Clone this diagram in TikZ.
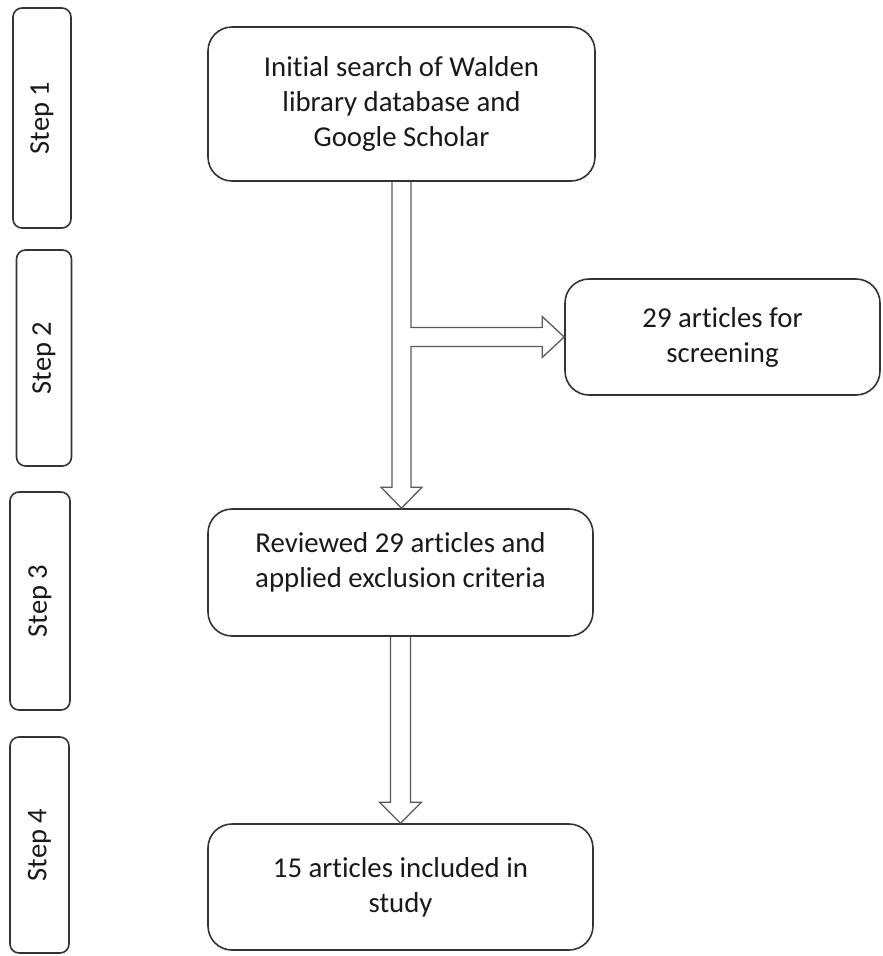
\documentclass[tikz,border=0pt]{standalone}
\usepackage{fontspec}
\setmainfont{Carlito}[Ligatures=NoCommon]
\usetikzlibrary{calc}
\begin{document}
\begin{tikzpicture}[x=1pt,y=-1pt,
  box/.style={draw=black!80, line width=1.6pt, rounded corners=24pt, align=center,
    font=\fontsize{28.8}{35}\selectfont, inner sep=0pt, text=black!90},
  stepbox/.style={draw=black!80, line width=1.6pt, rounded corners=9pt, inner sep=0pt,
    rotate=90, font=\fontsize{28.5}{35}\selectfont, text=black!90},
  hollow/.style={draw=black!65, line width=1.3pt, line join=miter}]
\useasboundingbox (0,0) rectangle (883,956);
% step boxes
\node[stepbox, minimum width=220pt, minimum height=58pt] (s1) at (42,118) {Step 1};
\node[stepbox, minimum width=216pt, minimum height=55pt] (s2) at (44,358) {Step 2};
\node[stepbox, minimum width=218pt, minimum height=60pt] (s3) at (40,601) {Step 3};
\node[stepbox, minimum width=216pt, minimum height=59pt] (s4) at (39.5,845) {Step 4};
% main boxes
\node[box, minimum width=387pt, minimum height=154pt] (b1) at (401.5,104)
  {Initial search of Walden\\library database and\\Google Scholar};
\node[box, minimum width=315pt, minimum height=116pt] (b2) at (722.5,337)
  {29 articles for\\screening};
\node[box, minimum width=385pt, minimum height=127pt] (b3) at (400.5,572.5)
  {Reviewed 29 articles and\\applied exclusion criteria\\[-20pt]\strut};
\node[box, minimum width=385pt, minimum height=126pt] (b4) at (400.5,887)
  {15 articles included in\\study};
% hollow arrow from b1 to b3 with branch to b2
\coordinate (t1) at (b1.south |- b3.north);
\coordinate (t2) at (b2.west);
\coordinate (j) at (b1.south |- t2);
\draw[hollow] ($(b1.south)+(-9.5,0)$) -- ($(t1)+(-9.5,-21)$) -- ($(t1)+(-20.5,-21)$)
  -- (t1) -- ($(t1)+(20.5,-21)$) -- ($(t1)+(9.5,-21)$) -- ($(j)+(9.5,9.5)$)
  -- ($(t2)+(-22,9.5)$) -- ($(t2)+(-22,20.5)$) -- (t2) -- ($(t2)+(-22,-20.5)$)
  -- ($(t2)+(-22,-9.5)$) -- ($(j)+(9.5,-9.5)$) -- ($(b1.south)+(9.5,0)$);
% hollow arrow from b3 to b4
\coordinate (t3) at (b3.south |- b4.north);
\draw[hollow] ($(b3.south)+(-10,0)$) -- ($(t3)+(-10,-21)$) -- ($(t3)+(-21,-21)$)
  -- (t3) -- ($(t3)+(21,-21)$) -- ($(t3)+(10,-21)$) -- ($(b3.south)+(10,0)$);
\end{tikzpicture}
\end{document}
